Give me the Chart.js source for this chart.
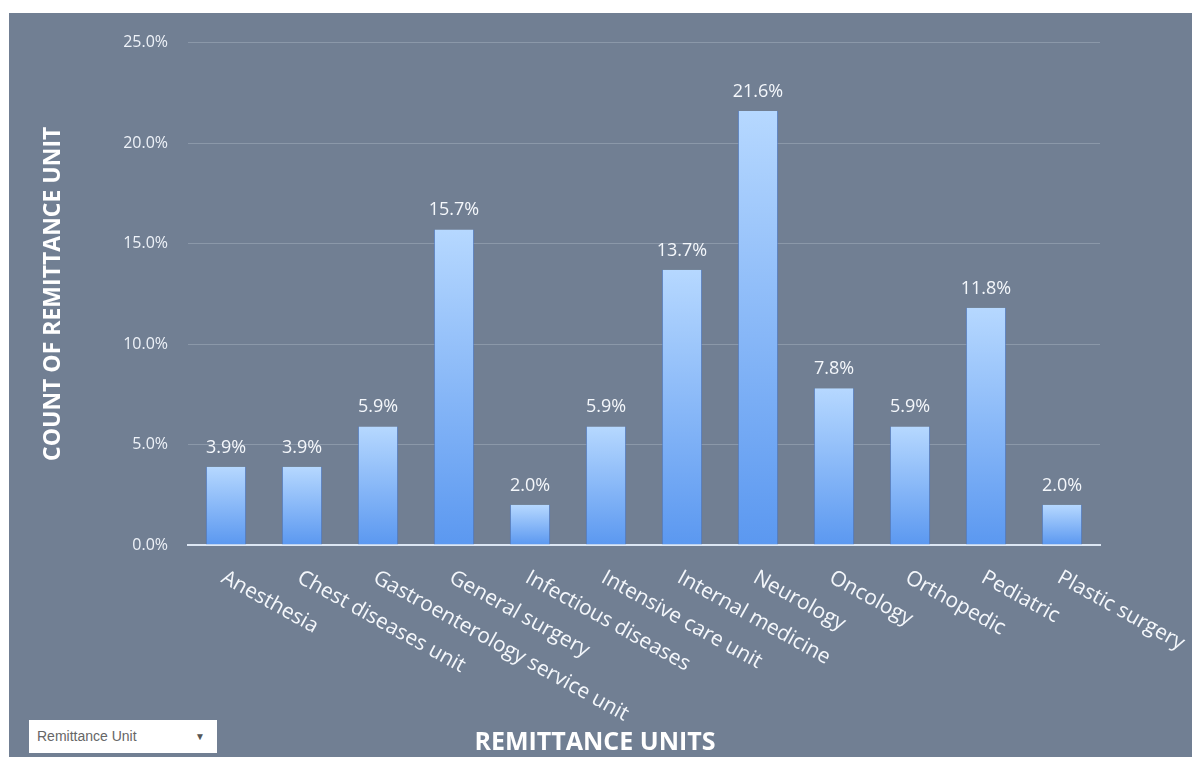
<!DOCTYPE html>
<html>
<head>
<meta charset="utf-8">
<script src="https://cdn.jsdelivr.net/npm/chart.js@4.4.1/dist/chart.umd.min.js"></script>
<style>
  html, body { margin: 0; padding: 0; background: #ffffff; }
  #panel { position: absolute; left: 9px; top: 13px; width: 1183px; height: 744px; background: #717f93; }
  #chart { display: block; }
  #fieldBtn {
    position: absolute; left: 29px; top: 720px; width: 188px; height: 33px;
    background: #ffffff; box-sizing: border-box; padding-left: 8px;
    font: 14px "Liberation Sans", Arial, sans-serif; color: #666; line-height: 33px;
  }
  #fieldBtn span { position: absolute; right: 12px; top: 0; font-size: 10px; color: #555; }
</style>
</head>
<body>
<div id="panel"><canvas id="chart" width="1183" height="744"></canvas></div>
<div id="fieldBtn">Remittance Unit<span>▼</span></div>
<script>
// Share of referrals per remittance unit (percent)
const units = [
  'Anesthesia', 'Chest diseases unit', 'Gastroenterology service unit', 'General surgery',
  'Infectious diseases', 'Intensive care unit', 'Internal medicine', 'Neurology',
  'Oncology', 'Orthopedic', 'Pediatric', 'Plastic surgery'
];
const shares = [3.9, 3.9, 5.9, 15.7, 2.0, 5.9, 13.7, 21.6, 7.8, 5.9, 11.8, 2.0];
const yTickValues = [0, 5, 10, 15, 20, 25];
const yTitle = 'COUNT OF REMITTANCE UNIT';
const xTitle = 'REMITTANCE UNITS';

const FONT = '"Open Sans", "Noto Sans", sans-serif';
const pct = v => v.toFixed(1) + '%';

// Vertical gradient for each bar, light at the top and deeper blue at the base
function barFill(ctx) {
  if (ctx.type !== 'data') return '#8ab8fb';
  const y = ctx.chart.scales.y;
  if (!y) return '#8ab8fb';
  const top = y.getPixelForValue(shares[ctx.dataIndex]);
  const base = y.getPixelForValue(0);
  if (!isFinite(top) || !isFinite(base) || top === base) return '#8ab8fb';
  const g = ctx.chart.ctx.createLinearGradient(0, top, 0, base);
  g.addColorStop(0, '#b6d8ff');
  g.addColorStop(1, '#5b98f0');
  return g;
}

// Value labels above bars, slanted category labels and the x-axis title
const annotate = {
  id: 'annotate',
  afterDatasetsDraw(chart) {
    const { ctx, chartArea } = chart;
    const meta = chart.getDatasetMeta(0);
    const x = chart.scales.x;
    ctx.save();
    ctx.fillStyle = '#f4f7fb';
    ctx.font = '18px ' + FONT;
    ctx.textAlign = 'center';
    ctx.textBaseline = 'alphabetic';
    meta.data.forEach((bar, i) => {
      ctx.fillText(pct(shares[i]), bar.x, bar.y - 14);
    });

    ctx.font = '21px ' + FONT;
    ctx.textAlign = 'left';
    ctx.textBaseline = 'top';
    units.forEach((name, i) => {
      const px = x.getPixelForTick(i);
      ctx.save();
      ctx.translate(px + 2, chartArea.bottom + 22);
      ctx.rotate(29 * Math.PI / 180);
      ctx.fillText(name, 0, 0);
      ctx.restore();
    });

    ctx.font = 'bold 25px ' + FONT;
    ctx.textAlign = 'center';
    ctx.textBaseline = 'middle';
    ctx.fillStyle = '#ffffff';
    ctx.fillText(xTitle, 586, 730);
    ctx.restore();
  }
};

new Chart(document.getElementById('chart'), {
  type: 'bar',
  data: {
    labels: units,
    datasets: [{
      data: shares,
      backgroundColor: barFill,
      borderColor: 'rgba(70, 120, 205, 0.7)',
      borderWidth: { left: 1, right: 1, top: 0, bottom: 0 },
      borderSkipped: false,
      barPercentage: 0.53,
      categoryPercentage: 1
    }]
  },
  options: {
    responsive: false,
    animation: false,
    layout: { padding: { top: 20, right: 92, left: 0, bottom: 0 } },
    plugins: { legend: { display: false }, tooltip: { enabled: false } },
    scales: {
      x: {
        ticks: { display: false },
        grid: { display: false },
        border: { display: true, color: '#dde7f4', width: 2 },
        afterFit(s) { s.height = 212; }
      },
      y: {
        min: 0,
        max: 25,
        afterBuildTicks(s) { s.ticks = yTickValues.map(v => ({ value: v })); },
        ticks: {
          callback: v => pct(v),
          color: '#eef2f8',
          font: { family: FONT, size: 16 },
          padding: 20
        },
        grid: { color: '#8b98a9', lineWidth: 1, drawTicks: false },
        border: { display: false },
        title: {
          display: true,
          text: yTitle,
          color: '#ffffff',
          font: { family: FONT, size: 23, weight: 'bold' },
          padding: { top: 31, bottom: 0 }
        },
        afterFit(s) { s.width = 179; }
      }
    }
  },
  plugins: [annotate]
});
</script>
</body>
</html>
